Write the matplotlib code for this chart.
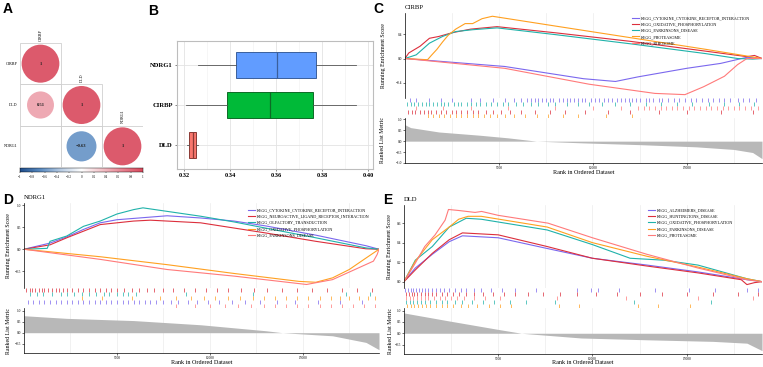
import numpy as np
import matplotlib
matplotlib.use('Agg')
import matplotlib.pyplot as plt
from matplotlib.patches import Circle, Rectangle
from matplotlib.colors import LinearSegmentedColormap

W, H = 763, 367
SERIF = ['Liberation Serif', 'DejaVu Serif']
SANS = ['Liberation Sans', 'DejaVu Sans']

# ---------------- A: correlation matrix ----------------
genes = ['CIRBP', 'DLD', 'NDRG1']
corr = [[1.0, None, None],
        [0.51, 1.0, None],
        [None, -0.63, 1.0]]
cbar_ticks = [-1, -0.8, -0.6, -0.4, -0.2, 0, 0.2, 0.4, 0.6, 0.8, 1]

# ---------------- B: boxplot ----------------
box_genes = ['DLD', 'CIRBP', 'NDRG1']
box_lo = [0.3213, 0.3207, 0.3260]
box_q1 = [0.3223, 0.3387, 0.3427]
box_med = [0.3238, 0.3575, 0.3603]
box_q3 = [0.3251, 0.3761, 0.3775]
box_hi = [0.3263, 0.3947, 0.3947]
box_fill = ['#F8766D', '#00BA38', '#619CFF']
box_edge = ['#8a3a35', '#0d6b26', '#3a5f9c']
b_ticks = [0.32, 0.34, 0.36, 0.38, 0.40]

# ---------------- GSEA colours ----------------
PURPLE, RED, CYAN, ORANGE, PINK = '#7B68EE', '#DC2F3C', '#20B2AA', '#FFA020', '#FF7A7A'

# ---------------- C: CIRBP ----------------
c_labels = ['KEGG_CYTOKINE_CYTOKINE_RECEPTOR_INTERACTION', 'KEGG_OXIDATIVE_PHOSPHORYLATION',
            'KEGG_PARKINSONS_DISEASE', 'KEGG_PROTEASOME', 'KEGG_RIBOSOME']
c_colors = [PURPLE, RED, CYAN, ORANGE, PINK]
c_rank = [
    [0, 5300, 9500, 11200, 12400, 15000, 16800, 18200, 19000],
    [0, 200, 800, 1300, 1800, 2500, 3500, 4900, 8000, 12000, 16000, 18200, 18600, 19000],
    [0, 600, 1300, 2000, 2700, 3600, 4900, 8000, 12000, 16000, 17700, 18500, 19000],
    [0, 1200, 1400, 1700, 2000, 2300, 2700, 3200, 3600, 4100, 4650, 8000, 12000, 16000, 19000],
    [0, 5300, 9800, 13300, 14900, 15900, 17000, 17700, 18200, 19000],
]
c_es = [
    [0, -0.13, -0.33, -0.375, -0.30, -0.16, -0.08, 0.02, 0],
    [0, 0.09, 0.2, 0.33, 0.36, 0.42, 0.48, 0.52, 0.42, 0.28, 0.12, 0.03, 0.05, 0],
    [0, 0.06, 0.25, 0.36, 0.44, 0.47, 0.50, 0.39, 0.24, 0.08, 0.0, -0.01, 0],
    [0, -0.02, 0.05, 0.15, 0.27, 0.38, 0.48, 0.57, 0.57, 0.65, 0.69, 0.53, 0.34, 0.15, 0],
    [0, -0.16, -0.42, -0.57, -0.59, -0.46, -0.29, -0.10, 0.0, 0],
]
c_hits = [
    [250, 600, 1300, 1900, 2500, 3500, 4000, 4700, 5300, 5800, 6200, 6500, 6700, 6900, 7100, 7300,
     7500, 7700, 7900, 8200, 8400, 8600, 8800, 9000, 9200, 9400, 9600, 9900, 10100, 10300, 10600,
     10800, 11000, 11300, 11500, 11700, 11900, 12100, 12300, 12500, 12800, 13000, 13200, 13500,
     13700, 14000, 14300, 14600, 14900, 15200, 15500, 15800, 16100, 16400, 16700, 17000, 17300,
     17700, 18000, 18300, 18700],
    [150, 350, 550, 800, 1000, 1200, 1400, 1650, 1900, 2200, 2500, 2700, 3000, 3300, 3600, 3900,
     4300, 4700, 5100, 5600, 6200, 6900, 7700, 8500, 9600, 10800, 12000, 13500, 15000, 16800, 18500],
    [100, 300, 500, 700, 900, 1100, 1300, 1500, 1700, 1900, 2100, 2300, 2600, 2800, 3000, 3300,
     3500, 3800, 4000, 4300, 4600, 4900, 5200, 5500, 5900, 6300, 6700, 7100, 7600, 8000, 8600,
     9200, 9800, 10500, 11200, 12000, 12800, 13600, 14500, 15300, 16200, 17000, 17800, 18600],
    [1200, 1500, 1800, 2100, 2400, 2700, 3000, 3300, 3600, 3900, 4200, 4500, 4900, 5300, 5800,
     6400, 7000, 7600, 8400, 9200, 10700, 12100],
    [600, 2000, 3500, 5500, 8000, 10000, 11500, 12400, 12700, 13000, 13300, 13600, 13900, 14200,
     14500, 14800, 15100, 15400, 15700, 16000, 16300, 16600, 16900, 17200, 17500, 17800, 18100,
     18400, 18800],
]
c_rows = [0, 3, 1, 4, 2]
c_metric_rank = [0, 300, 1800, 4000, 5500, 7000, 9500, 12500, 15500, 17500, 18500, 19000]
c_metric = [0.75, 0.62, 0.42, 0.27, 0.15, 0.0, -0.08, -0.16, -0.26, -0.38, -0.52, -0.8]

# ---------------- D: NDRG1 ----------------
d_labels = ['KEGG_CYTOKINE_CYTOKINE_RECEPTOR_INTERACTION', 'KEGG_NEUROACTIVE_LIGAND_RECEPTOR_INTERACTION',
            'KEGG_OLFACTORY_TRANSDUCTION', 'KEGG_OXIDATIVE_PHOSPHORYLATION', 'KEGG_PARKINSONS_DISEASE']
d_colors = [PURPLE, RED, CYAN, ORANGE, PINK]
d_rank = [
    [0, 1400, 2300, 3200, 4100, 5000, 6800, 7700, 9500, 11300, 13000, 15700, 18400, 19100],
    [0, 1400, 2300, 4100, 5900, 6800, 9500, 13000, 15700, 18400, 19100],
    [0, 1250, 1400, 2300, 3200, 4100, 5000, 5900, 6400, 7700, 9500, 11300, 13000, 15700, 18400, 19100],
    [0, 4100, 7700, 11300, 14800, 15700, 16600, 17500, 18400, 19100],
    [0, 4100, 7700, 11300, 15200, 16600, 17700, 18800, 19000, 19100],
]
d_es = [
    [0, 0.14, 0.28, 0.45, 0.60, 0.67, 0.73, 0.76, 0.71, 0.64, 0.53, 0.32, 0.08, 0],
    [0, 0.10, 0.26, 0.56, 0.64, 0.66, 0.60, 0.37, 0.18, 0.01, 0],
    [0, 0.02, 0.18, 0.30, 0.52, 0.64, 0.80, 0.90, 0.94, 0.86, 0.75, 0.62, 0.48, 0.26, 0.03, 0],
    [0, -0.17, -0.35, -0.55, -0.73, -0.75, -0.65, -0.46, -0.20, 0],
    [0, -0.23, -0.46, -0.61, -0.80, -0.69, -0.48, -0.27, -0.12, 0],
]
d_hits = [
    [200, 500, 800, 1100, 1400, 1700, 2000, 2300, 2600, 2900, 3200, 3500, 3800, 4100, 4400, 4700,
     5000, 5300, 5600, 5900, 6200, 6500, 6800, 7100, 7500, 7900, 8300, 8800, 9300, 9900, 10500,
     11200, 11900, 12700, 13600, 14600, 15800, 17000, 18200],
    [100, 300, 450, 600, 800, 950, 1100, 1300, 1500, 1700, 1900, 2100, 2300, 2600, 2900, 3200,
     3500, 3800, 4100, 4400, 4700, 5000, 5400, 5800, 6200, 6600, 7000, 7500, 8000, 8600, 9200,
     9800, 10400, 11000, 11700, 12400, 13100, 13900, 14700, 15500, 16300, 17100, 17900, 18700],
    [300, 700, 1000, 1500, 2000, 2300, 2700, 3100, 3500, 3900, 4300, 4600, 5000, 5300, 5600, 6000,
     8700, 12300, 17300, 18600],
    [3100, 4200, 5800, 7300, 8200, 9000, 9700, 10300, 11000, 11600, 12300, 12900, 13500, 14100,
     14700, 15300, 15900, 16500, 17000, 17500, 18000, 18500, 18900],
    [8200, 9200, 10000, 10800, 11500, 12200, 12900, 13500, 14100, 14700, 15300, 15900, 16500,
     17100, 17700, 18300, 18900],
]
d_rows = [3, 0, 1, 2, 4]
d_metric_rank = [0, 2300, 5900, 9500, 13000, 13900, 16600, 18400, 19100]
d_metric = [0.77, 0.65, 0.55, 0.36, 0.09, 0.0, -0.14, -0.44, -0.77]

# ---------------- E: DLD ----------------
e_labels = ['KEGG_ALZHEIMERS_DISEASE', 'KEGG_HUNTINGTONS_DISEASE', 'KEGG_OXIDATIVE_PHOSPHORYLATION',
            'KEGG_PARKINSONS_DISEASE', 'KEGG_PROTEASOME']
e_colors = [PURPLE, RED, CYAN, ORANGE, PINK]
e_rank = [
    [0, 600, 1500, 2400, 3100, 5000, 7600, 10000, 12900, 15600, 18200, 19000],
    [0, 600, 1500, 2400, 3100, 5000, 7600, 10000, 12900, 15600, 17900, 18200, 18600, 19000],
    [0, 600, 1500, 2400, 3300, 4100, 7600, 10000, 12000, 13800, 15600, 18200, 19000],
    [0, 600, 1500, 2400, 2900, 3400, 4100, 7600, 10000, 12900, 15600, 18200, 19000],
    [0, 600, 1100, 1650, 2180, 2360, 2890, 3770, 4120, 5000, 7640, 10000, 12900, 15600, 18200, 19000],
]
e_es = [
    [0, 0.14, 0.28, 0.41, 0.47, 0.45, 0.34, 0.24, 0.17, 0.10, 0.02, 0],
    [0, 0.12, 0.29, 0.43, 0.50, 0.48, 0.36, 0.24, 0.16, 0.09, 0.02, -0.03, -0.01, 0],
    [0, 0.22, 0.36, 0.56, 0.65, 0.64, 0.53, 0.38, 0.24, 0.22, 0.17, 0.03, 0],
    [0, 0.21, 0.43, 0.56, 0.64, 0.67, 0.67, 0.56, 0.40, 0.26, 0.15, 0.03, 0],
    [0, 0.19, 0.36, 0.48, 0.63, 0.74, 0.73, 0.71, 0.72, 0.68, 0.60, 0.45, 0.28, 0.14, 0.02, 0],
]
e_hits = [
    [50, 200, 350, 500, 650, 800, 950, 1100, 1300, 1500, 1700, 1900, 2100, 2400, 2700, 3000,
     3300, 3700, 4100, 4600, 5200, 5900, 7000, 9200, 9900, 10300, 11400, 13300, 15100, 16500,
     18200, 18800],
    [100, 250, 400, 550, 700, 900, 1100, 1300, 1500, 1700, 2000, 2300, 2600, 2900, 3300, 3700,
     4200, 4700, 5300, 5900, 6600, 7400, 8300, 9200, 10200, 11300, 12500, 13700, 15000, 16400,
     17700, 18800],
    [80, 300, 500, 700, 900, 1100, 1400, 1700, 2000, 2300, 2700, 3100, 3600, 4200, 4800, 5600,
     6500, 8000, 12200, 16300],
    [150, 350, 550, 750, 950, 1150, 1400, 1700, 2000, 2300, 2600, 3000, 3400, 3900, 4500, 5100,
     5700, 8200, 9300, 12400, 13500, 15200],
    [100, 300, 500, 700, 900, 1100, 1300, 1600, 1900, 2200, 2500, 2800, 3200, 3700, 4300, 5100,
     8100, 11800, 15600, 18500],
]
e_rows = [0, 1, 3, 4, 2]
e_metric_rank = [0, 2360, 5000, 6230, 9400, 12900, 16400, 18200, 19000]
e_metric = [0.9, 0.55, 0.17, 0.0, -0.21, -0.29, -0.36, -0.44, -0.77]


fig = plt.figure(figsize=(W / 100, H / 100), dpi=100)


def px_axes(l, t, r, b):
    return fig.add_axes([l / W, 1 - b / H, (r - l) / W, (b - t) / H])


def ftext(x, y, s, **kw):
    fig.text(x / W, 1 - y / H, s, **kw)


# panel letters
for lab, x, y in [('A', 3, 2), ('B', 148, 4), ('C', 373, 2), ('D', 3, 193), ('E', 383, 193)]:
    ftext(x, y, lab, family=SANS, fontweight='bold', fontsize=10, va='top', ha='left')

# ---------------- A ----------------
cmap = LinearSegmentedColormap.from_list(
    'corr', ['#1f4e8c', '#5b8cc2', '#b9cde4', '#ffffff', '#f3c3c9', '#e88391', '#d9485c'])
axA = px_axes(20, 43, 143, 167)
axA.set_xlim(0, 3)
axA.set_ylim(3, 0)
axA.axis('off')
n = len(genes)
for i in range(n):
    for j in range(i + 1):
        axA.add_patch(Rectangle((j, i), 1, 1, fill=False, ec='#d0d0d0', lw=0.6))
        v = corr[i][j]
        if v is None:
            continue
        axA.add_patch(Circle((j + 0.5, i + 0.5), 0.46 * np.sqrt(abs(v)),
                             color=cmap((v + 1) / 2), alpha=0.9, lw=0))
        txt = '1' if v == 1 else f'{v:.2f}'.replace('-', '\u2212')
        axA.text(j + 0.5, i + 0.5, txt, ha='center', va='center', fontsize=3.3,
                 family=SERIF, fontweight='bold', color='#202020')
    axA.text(-0.06, i + 0.5, genes[i], ha='right', va='center', fontsize=3, family=SERIF)
    axA.text(i + 0.5, i - 0.06, genes[i], ha='center', va='bottom', fontsize=3,
             family=SERIF, rotation=90)

axCb = px_axes(20, 168, 143, 172)
axCb.imshow(np.linspace(-1, 1, 256)[None, :], aspect='auto', cmap=cmap,
            extent=[-1, 1, 0, 1], vmin=-1, vmax=1)
axCb.set_yticks([])
axCb.set_xticks(cbar_ticks)
axCb.set_xticklabels([str(t).replace('-', '\u2212') for t in cbar_ticks],
                     fontsize=2.3, family=SERIF)
axCb.tick_params(axis='x', length=1, width=0.3, pad=1)
for s in axCb.spines.values():
    s.set_linewidth(0.3)

# ---------------- B ----------------
axB = px_axes(177, 41, 373, 169)
stats = []
for k in range(len(box_genes)):
    stats.append(dict(whislo=box_lo[k], q1=box_q1[k], med=box_med[k],
                      q3=box_q3[k], whishi=box_hi[k], fliers=[], label=box_genes[k]))
bp = axB.bxp(stats, positions=range(len(stats)), vert=False, widths=0.64,
             patch_artist=True, showfliers=False, showcaps=False)
for k, patch in enumerate(bp['boxes']):
    patch.set_facecolor(box_fill[k])
    patch.set_edgecolor(box_edge[k])
    patch.set_linewidth(0.7)
    bp['medians'][k].set_color(box_edge[k])
    bp['medians'][k].set_linewidth(0.9)
for w in bp['whiskers']:
    w.set_color('#555555')
    w.set_linewidth(0.6)
axB.set_xlim(0.31696, 0.40217)
axB.set_ylim(-0.6, 2.6)
axB.set_xticks(b_ticks)
axB.set_xticklabels([f'{t:.2f}' for t in b_ticks])
axB.set_xticks([0.33, 0.35, 0.37, 0.39], minor=True)
axB.grid(True, which='major', color='#e3e3e3', lw=0.6)
axB.grid(True, which='minor', axis='x', color='#f0f0f0', lw=0.4)
axB.set_axisbelow(True)
for s in axB.spines.values():
    s.set_color('#bdbdbd')
    s.set_linewidth(0.8)
axB.tick_params(axis='both', length=1.5, width=0.5, color='#555555', pad=1.5)
axB.tick_params(axis='x', which='minor', length=0)
for t in axB.get_xticklabels():
    t.set_fontsize(4.6); t.set_family(SERIF); t.set_fontweight('bold')
for t in axB.get_yticklabels():
    t.set_fontsize(4.8); t.set_family(SERIF); t.set_fontweight('bold')


# ---------------- GSEA panels ----------------
def fmt(v):
    return f'{v:.1f}'.replace('-', '\u2212')


def gsea(l, r, t_es, b_es, b_hits, b_m, title, labels, colors, ranks, es, hits, rows,
         m_rank, m_val, es_ylim, es_ticks, m_ylim, m_ticks, nmax, leg_xy, ylab_x):
    grid_x = np.arange(2500, nmax, 2500)
    ax1 = px_axes(l, t_es, r, b_es)
    for k in range(len(labels)):
        ax1.plot(ranks[k], es[k], color=colors[k], lw=0.8, label=labels[k])
    ax1.set_xlim(0, nmax)
    ax1.set_ylim(*es_ylim)
    ax1.set_yticks(es_ticks)
    ax1.set_yticklabels([fmt(v) for v in es_ticks], fontsize=2.6, family=SERIF)
    ax1.set_xticks(grid_x)
    ax1.tick_params(axis='x', length=0, labelbottom=False)
    ax1.tick_params(axis='y', length=1.2, width=0.4, pad=1)
    ax1.grid(True, axis='x', color='#ebebeb', lw=0.5)
    for s in ['top', 'right', 'bottom']:
        ax1.spines[s].set_visible(False)
    ax1.spines['left'].set_linewidth(0.5)
    leg = ax1.legend(loc='upper left', bbox_to_anchor=(leg_xy[0] / W, 1 - leg_xy[1] / H),
                     bbox_transform=fig.transFigure, frameon=False,
                     handlelength=1.6, handletextpad=0.6, labelspacing=0.55, borderpad=0,
                     prop={'family': SERIF, 'size': 3.0})
    for ln in leg.get_lines():
        ln.set_linewidth(0.8)

    ax2 = px_axes(l, b_es, r, b_hits)
    nrow = len(labels)
    for k in range(nrow):
        row = nrow - 1 - rows[k]
        ax2.vlines(hits[k], row + 0.05, row + 0.95, color=colors[k], lw=0.6, alpha=0.85)
    ax2.set_xlim(0, nmax)
    ax2.set_ylim(0, nrow)
    ax2.axis('off')

    ax3 = px_axes(l, b_hits, r, b_m)
    ax3.fill_between(m_rank, m_val, 0, color='#b8b8b8', lw=0)
    ax3.set_xlim(0, nmax)
    ax3.set_ylim(*m_ylim)
    ax3.set_yticks(m_ticks)
    ax3.set_yticklabels([fmt(v) for v in m_ticks], fontsize=2.6, family=SERIF)
    ax3.set_xticks([5000, 10000, 15000])
    ax3.set_xticks(grid_x, minor=True)
    ax3.set_xticklabels(['5000', '10000', '15000'], fontsize=2.6, family=SERIF)
    ax3.grid(True, axis='x', which='both', color='#ebebeb', lw=0.5)
    ax3.set_axisbelow(True)
    ax3.tick_params(axis='both', which='major', length=1.2, width=0.4, pad=1)
    ax3.tick_params(axis='x', which='minor', length=0)
    for s in ['top', 'right']:
        ax3.spines[s].set_visible(False)
    ax3.spines['left'].set_linewidth(0.5)
    ax3.spines['bottom'].set_linewidth(0.5)

    ftext(l, t_es - 3, title, fontsize=4.8, family=SERIF, va='bottom', ha='left')
    ftext(ylab_x, (t_es + b_es) / 2, 'Running Enrichment Score', fontsize=4.2,
          family=SERIF, rotation=90, ha='center', va='center')
    ftext(ylab_x, (b_hits + b_m) / 2, 'Ranked List Metric', fontsize=4.2,
          family=SERIF, rotation=90, ha='center', va='center')
    ftext((l + r) / 2, b_m + 9, 'Rank in Ordered Dataset', fontsize=4.4,
          family=SERIF, ha='center', va='center')


gsea(405, 762, 13, 98, 118, 163, 'CIRBP', c_labels, c_colors, c_rank, c_es, c_hits, c_rows,
     c_metric_rank, c_metric, (-0.645, 0.743), [-0.4, 0.0, 0.4], (-1.0, 1.06),
     [-1.0, -0.5, 0.0, 0.5, 1.0], 19000, (630, 14), 383)
gsea(24, 379, 203, 288, 308, 353, 'NDRG1', d_labels, d_colors, d_rank, d_es, d_hits, d_rows,
     d_metric_rank, d_metric, (-0.88, 1.05), [-0.5, 0.0, 0.5, 1.0], (-0.92, 1.12),
     [-0.5, 0.0, 0.5, 1.0], 19100, (246, 206), 9)
gsea(404, 762, 205, 288, 308, 354, 'DLD', e_labels, e_colors, e_rank, e_es, e_hits, e_rows,
     e_metric_rank, e_metric, (-0.065, 0.786), [0.0, 0.2, 0.4, 0.6], (-0.92, 1.12),
     [-0.5, 0.0, 0.5, 1.0], 19000, (646, 206), 390)

fig.savefig('out.png', dpi=100)
